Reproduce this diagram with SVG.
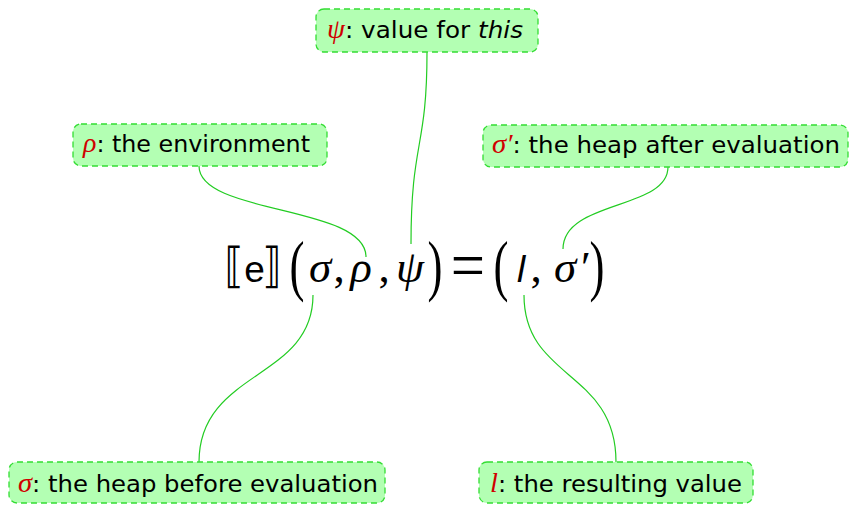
<svg xmlns="http://www.w3.org/2000/svg" width="852" height="505" viewBox="0 0 852 505">
<style>
.box{fill:#b3ffb3;stroke:#33dd33;stroke-width:1.3;stroke-dasharray:6 4}
.lbl{font-family:"DejaVu Sans","Liberation Sans",sans-serif;font-size:23px;fill:#000}
.m{font-family:"Liberation Serif","DejaVu Serif",serif;font-style:italic;fill:#d00000;font-size:27px}
.it{font-style:italic}
.conn{fill:none;stroke:#22cc22;stroke-width:1.2}
.f{font-family:"Liberation Serif","DejaVu Serif",serif;font-size:45px;fill:#000;text-anchor:middle}
.fg{font-style:italic}
.fs{font-family:"Liberation Sans","DejaVu Sans",sans-serif;font-size:37px}
.fb{font-family:"DejaVu Sans",sans-serif;font-size:48px}
</style>
<rect width="852" height="505" fill="#fff"/>
<g id="connectors">
<path class="conn" d="M427,52 C427,150 411,140 411,244"/>
<path class="conn" d="M199,166 C199,215 366,205 366,257"/>
<path class="conn" d="M668,167 C668,210 563,200 563,249"/>
<path class="conn" d="M313,295 C313,380 199,370 199,462"/>
<path class="conn" d="M524,295 C524,380 616,370 616,462"/>
</g>
<g id="formula">
<text class="f fb" transform="translate(234,282) scale(0.78,1)">⟦</text>
<text class="f fs" x="254.5" y="282">e</text>
<text class="f fb" transform="translate(272,282) scale(0.78,1)">⟧</text>
<text class="f" transform="translate(297,288) scale(1,1.5)">(</text>
<text class="f fg" x="320" y="282">σ</text>
<text class="f" x="339" y="282">,</text>
<text class="f fg" x="361" y="282">ρ</text>
<text class="f" x="384" y="282">,</text>
<text class="f fg" x="410" y="282">ψ</text>
<text class="f" transform="translate(435,288) scale(1,1.5)">)</text>
<text class="f" transform="translate(468,288) scale(1.35,1.5)">=</text>
<text class="f" transform="translate(501,288) scale(1,1.5)">(</text>
<text class="f fs fg" x="521" y="282">l</text>
<text class="f" x="536" y="282">,</text>
<text class="f fg" x="565" y="282">σ</text>
<text class="f" x="586" y="282">′</text>
<text class="f" transform="translate(597,288) scale(1,1.5)">)</text>
</g>
<g id="node-psi">
<rect class="box" x="316" y="9" width="222" height="43" rx="8"/>
<text class="lbl" x="327" y="38" textLength="196" lengthAdjust="spacingAndGlyphs"><tspan class="m">ψ</tspan>: value for <tspan class="it">this</tspan></text>
</g>
<g id="node-rho">
<rect class="box" x="73" y="124" width="254" height="42" rx="8"/>
<text class="lbl" x="83" y="152" textLength="227" lengthAdjust="spacingAndGlyphs"><tspan class="m">ρ</tspan>: the environment</text>
</g>
<g id="node-sigma-prime">
<rect class="box" x="483" y="125" width="365" height="42" rx="8"/>
<text class="lbl" x="492" y="153" textLength="348" lengthAdjust="spacingAndGlyphs"><tspan class="m">σ′</tspan>: the heap after evaluation</text>
</g>
<g id="node-sigma">
<rect class="box" x="9" y="462" width="376" height="41" rx="8"/>
<text class="lbl" x="18" y="492" textLength="360" lengthAdjust="spacingAndGlyphs"><tspan class="m">σ</tspan>: the heap before evaluation</text>
</g>
<g id="node-l">
<rect class="box" x="479" y="462" width="274" height="41" rx="8"/>
<text class="lbl" x="490" y="492" textLength="252" lengthAdjust="spacingAndGlyphs"><tspan class="m">l</tspan>: the resulting value</text>
</g>
</svg>
